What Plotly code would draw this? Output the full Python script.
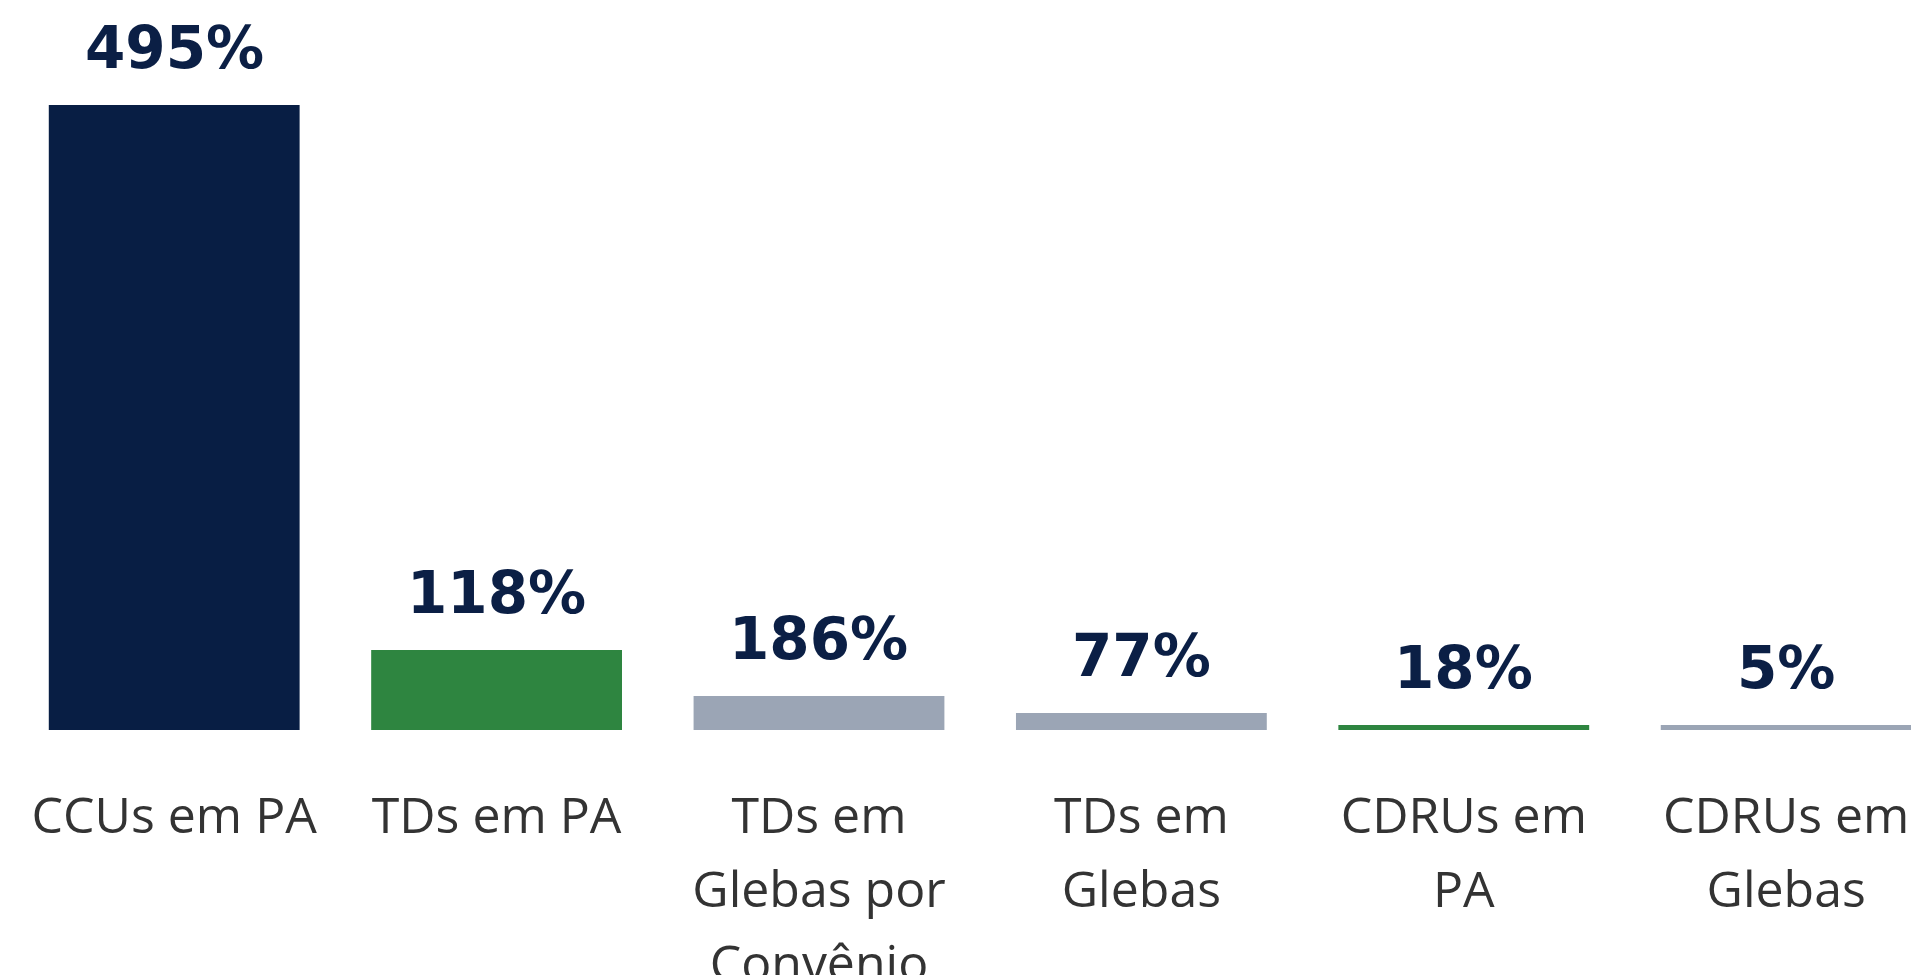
import plotly.graph_objects as go

categories = ["CCUs em PA", "TDs em PA", "TDs em<br>Glebas por<br>Convênio",
              "TDs em<br>Glebas", "CDRUs em<br>PA", "CDRUs em<br>Glebas"]
values = [625, 80, 34, 17, 5, 5]
pct_labels = ["495%", "118%", "186%", "77%", "18%", "5%"]
colors = ["#081E44", "#2E8540", "#9BA5B5", "#9BA5B5", "#2E8540", "#9BA5B5"]

x_idx = list(range(len(categories)))
tick_text = ["<br>".join(f'<span style="font-size:50px">{p}</span>' for p in c.split("<br>"))
             for c in categories]

fig = go.Figure()
fig.add_trace(go.Bar(
    x=x_idx, y=values, marker=dict(color=colors, line=dict(width=0)),
    width=0.778, hoverinfo="skip",
))

for xi, v, t in zip(x_idx, values, pct_labels):
    fig.add_annotation(
        x=xi, y=v, text=f"<b>{t}</b>", showarrow=False,
        yanchor="bottom", xanchor="center", yshift=21,
        font=dict(family="DejaVu Sans", size=58, color="#0B1F45"),
    )

fig.update_layout(
    width=1911, height=967, autosize=False,
    plot_bgcolor="white", paper_bgcolor="white",
    margin=dict(l=5, r=0, t=12, b=245),
    showlegend=False,
    xaxis=dict(
        tickmode="array", tickvals=x_idx, ticktext=tick_text,
        range=[-0.5, 5.412], showgrid=False, zeroline=False, showline=False,
        ticks="", ticklabelstandoff=45, automargin=False,
        tickfont=dict(family="Open Sans", size=57, color="#333333"),
        fixedrange=True,
    ),
    yaxis=dict(range=[0, 710], visible=False, showgrid=False, zeroline=False,
               fixedrange=True, automargin=False),
)

fig.write_html("out.html", config={"displayModeBar": False})
